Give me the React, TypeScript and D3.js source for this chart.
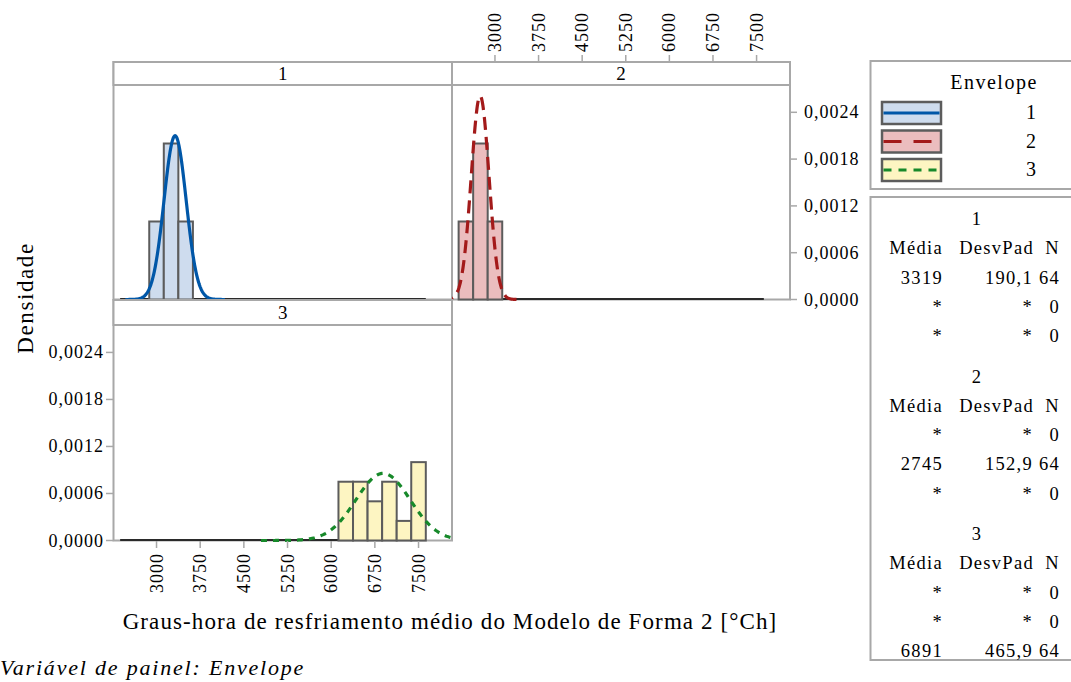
import * as d3 from "d3";

// histogram bins (midpoints, width 250) shared by all panels
const binMids = [2500, 2750, 3000, 3250, 3500, 3750, 4000, 4250, 4500, 4750, 5000, 5250, 5500, 5750, 6000, 6250, 6500, 6750, 7000, 7250, 7500];
const counts1 = [0, 0, 16, 32, 16, 0, 0, 0, 0, 0, 0, 0, 0, 0, 0, 0, 0, 0, 0, 0, 0];
const counts2 = [16, 32, 16, 0, 0, 0, 0, 0, 0, 0, 0, 0, 0, 0, 0, 0, 0, 0, 0, 0, 0];
const counts3 = [0, 0, 0, 0, 0, 0, 0, 0, 0, 0, 0, 0, 0, 0, 0, 12, 12, 8, 12, 4, 16];
const binWidth = 250;

const groups = ["1", "2", "3"];
const means = [3319, 2745, 6891];
const sds = [190.1, 152.9, 465.9];
const ns = [64, 64, 64];

const xTicks = [3000, 3750, 4500, 5250, 6000, 6750, 7500];
const yTicks = [0, 0.0006, 0.0012, 0.0018, 0.0024];

const fills = ["#cedcee", "#ebbdbe", "#fdf5c2"];
const lineColors = ["#0057a8", "#a31a1a", "#17892a"];
const dashes = ["none", "13 7", "6 6"];
const legendDashes = ["none", "18 12", "8 7"];

const FONT = "Liberation Serif, DejaVu Serif, serif";
const GRID = "#a8a8a8";

const panels = [
  {g: 0, counts: counts1, x0: 113.5, x1: 452, top: 62, strip: 85, base: 299.5},
  {g: 1, counts: counts2, x0: 452, x1: 790, top: 62, strip: 85, base: 299.5},
  {g: 2, counts: counts3, x0: 113.5, x1: 452, top: 300, strip: 325, base: 540.5},
];

const fmt = (v: number, d: number) => v.toFixed(d).replace(".", ",");

function Panel({p}: {p: typeof panels[0]}) {
  const x = d3.scaleLinear().domain([2261, 8075]).range([p.x0, p.x1]);
  const y = d3.scaleLinear().domain([0, 0.00275]).range([p.base, p.strip]);
  const n = ns[p.g];
  const m = means[p.g], s = sds[p.g];
  // fitted normal curve over mean +/- 4.5 sd
  const pts = d3.range(0, 201).map(i => {
    const v = m - 4.5 * s + (9 * s * i) / 200;
    const dens = Math.exp(-0.5 * ((v - m) / s) ** 2) / (s * Math.sqrt(2 * Math.PI));
    return [v, dens] as [number, number];
  });
  const line = d3.line<[number, number]>().x(d => x(d[0])).y(d => y(d[1]));
  const clipId = "clip" + p.g;
  return (
    <g>
      <defs>
        <clipPath id={clipId}>
          <rect x={p.x0} y={p.strip} width={p.x1 - p.x0} height={p.base - p.strip + 3} />
        </clipPath>
      </defs>
      <rect x={p.x0} y={p.top} width={p.x1 - p.x0} height={p.base - p.top} fill="white" stroke={GRID} strokeWidth={2} />
      <rect x={p.x0} y={p.top} width={p.x1 - p.x0} height={p.strip - p.top} fill="white" stroke={GRID} strokeWidth={2} />
      <text x={(p.x0 + p.x1) / 2} y={(p.top + p.strip) / 2 + 6} textAnchor="middle" fontSize={19}>{groups[p.g]}</text>
      <g clipPath={`url(#${clipId})`}>
        <line x1={x(binMids[0] - binWidth / 2)} x2={x(binMids[binMids.length - 1] + binWidth / 2)} y1={p.base - 0.5} y2={p.base - 0.5} stroke="#2a2a2a" strokeWidth={2} />
        {binMids.map((b, i) => p.counts[i] > 0 && (
          <rect key={b} x={x(b - binWidth / 2)} width={x(b + binWidth / 2) - x(b - binWidth / 2)}
            y={y(p.counts[i] / (n * binWidth))} height={p.base - y(p.counts[i] / (n * binWidth))}
            fill={fills[p.g]} stroke="#5c5c5c" strokeWidth={2} />
        ))}
        <path d={line(pts) || ""} fill="none" stroke={lineColors[p.g]} strokeWidth={3.2} strokeDasharray={dashes[p.g]} />
      </g>
    </g>
  );
}

export default function App() {
  const p1 = panels[1], p2 = panels[2];
  const xTop = d3.scaleLinear().domain([2261, 8075]).range([p1.x0, p1.x1]);
  const xBot = d3.scaleLinear().domain([2261, 8075]).range([p2.x0, p2.x1]);
  const yRight = d3.scaleLinear().domain([0, 0.00275]).range([p1.base, p1.strip]);
  const yLeft = d3.scaleLinear().domain([0, 0.00275]).range([p2.base, p2.strip]);
  const tickStyle = {fontSize: 18, fontFamily: FONT, letterSpacing: "1px"};

  const rowH = 29.3;
  const statsTop = 225;
  return (
    <svg width={1071} height={682} style={{position: "absolute", left: 0, top: 0, background: "white", fontFamily: FONT}}>
      {panels.map(p => <Panel key={p.g} p={p} />)}

      {/* top axis over panel 2 */}
      {xTicks.map(t => (
        <g key={"t" + t}>
          <line x1={xTop(t)} x2={xTop(t)} y1={62} y2={55} stroke={GRID} strokeWidth={1.5} />
          <text transform={`translate(${xTop(t) + 6},52) rotate(-90)`} textAnchor="start" style={tickStyle}>{t}</text>
        </g>
      ))}
      {/* bottom axis under panel 3 */}
      {xTicks.map(t => (
        <g key={"b" + t}>
          <line x1={xBot(t)} x2={xBot(t)} y1={541} y2={548} stroke={GRID} strokeWidth={1.5} />
          <text transform={`translate(${xBot(t) + 6},553) rotate(-90)`} textAnchor="end" style={tickStyle}>{t}</text>
        </g>
      ))}
      {/* right axis of panel 2 */}
      {yTicks.map(t => (
        <g key={"r" + t}>
          <line x1={790} x2={797} y1={yRight(t)} y2={yRight(t)} stroke={GRID} strokeWidth={1.5} />
          <text x={804} y={yRight(t) + 6} style={tickStyle}>{fmt(t, 4)}</text>
        </g>
      ))}
      {/* left axis of panel 3 */}
      {yTicks.map(t => (
        <g key={"l" + t}>
          <line x1={113.5} x2={106} y1={yLeft(t)} y2={yLeft(t)} stroke={GRID} strokeWidth={1.5} />
          <text x={104} y={yLeft(t) + 6} textAnchor="end" style={tickStyle}>{fmt(t, 4)}</text>
        </g>
      ))}

      <text transform="translate(33,298) rotate(-90)" textAnchor="middle" fontSize={23} style={{letterSpacing: "1.6px"}}>Densidade</text>
      <text x={450} y={629} textAnchor="middle" fontSize={23} style={{letterSpacing: "1.1px"}}>Graus-hora de resfriamento médio do Modelo de Forma 2 [°Ch]</text>
      <text x={0} y={675} fontSize={22} fontStyle="italic" style={{letterSpacing: "1.8px"}}>Variável de painel: Envelope</text>

      {/* legend */}
      <rect x={870.5} y={61} width={210} height={128} fill="white" stroke={GRID} strokeWidth={2} />
      <text x={994} y={89} textAnchor="middle" fontSize={20} style={{letterSpacing: "1.5px"}}>Envelope</text>
      {groups.map((g, i) => {
        const ty = 102 + i * 28.5;
        return (
          <g key={"lg" + g}>
            <rect x={882} y={ty} width={59} height={22} fill={fills[i]} stroke="#5c5c5c" strokeWidth={2.5} />
            <line x1={883.5} x2={939.5} y1={ty + 11} y2={ty + 11} stroke={lineColors[i]} strokeWidth={3.2} strokeDasharray={legendDashes[i]} />
            <text x={1031} y={ty + 17} textAnchor="middle" fontSize={20}>{g}</text>
          </g>
        );
      })}

      {/* statistics table */}
      <rect x={870.5} y={197} width={210} height={463} fill="white" stroke={GRID} strokeWidth={2} />
      {groups.map((g, gi) => {
        const y0 = statsTop + gi * 157.5;
        return (
          <g key={"st" + g} fontSize={18.5} style={{letterSpacing: "1.3px"}}>
            <text x={977} y={y0} textAnchor="middle">{g}</text>
            <text x={943} y={y0 + rowH} textAnchor="end">Média</text>
            <text x={1034} y={y0 + rowH} textAnchor="end">DesvPad</text>
            <text x={1060} y={y0 + rowH} textAnchor="end">N</text>
            {groups.map((r, ri) => {
              const yy = y0 + rowH * (ri + 2);
              const own = ri === gi;
              return (
                <g key={"row" + r}>
                  <text x={943} y={yy} textAnchor="end">{own ? String(means[ri]) : "*"}</text>
                  <text x={1033} y={yy} textAnchor="end">{own ? fmt(sds[ri], 1) : "*"}</text>
                  <text x={1060} y={yy} textAnchor="end">{own ? ns[ri] : 0}</text>
                </g>
              );
            })}
          </g>
        );
      })}
    </svg>
  );
}
